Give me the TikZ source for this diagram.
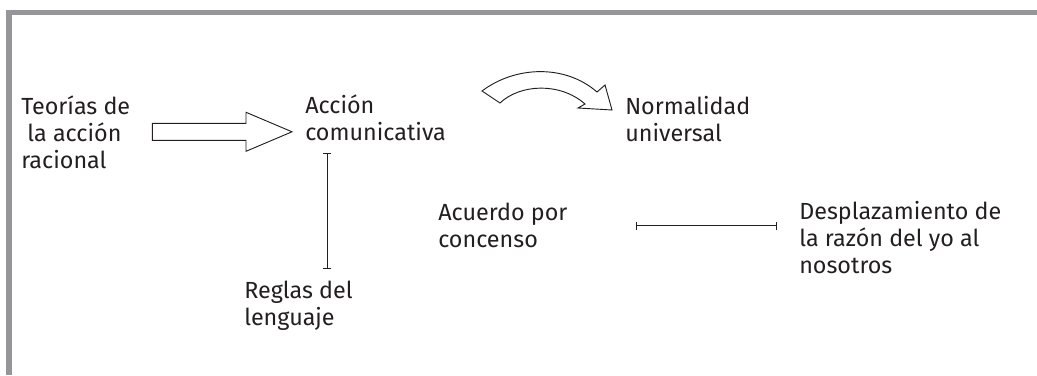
\documentclass[tikz,border=0pt]{standalone}
\usepackage{fontspec}
\setmainfont{Fira Sans}
\usepackage{tikz}
\usetikzlibrary{arrows.meta,positioning,calc}
\definecolor{grismarco}{RGB}{150,150,154}
\definecolor{texto}{RGB}{35,31,32}

\begin{document}
\begin{tikzpicture}[
    x=0.75pt,
    y=-0.75pt,
    font=\fontsize{17.5}{20.25}\selectfont,
    concepto/.style={
		anchor=base west,
		align=left,
		inner sep=0pt,
		text=texto
	},
	hueca/.style={
		draw=texto,
		line width=0.7pt,
		fill=white,
		line join=miter
	},
	linea/.style={
		draw=texto,
		line width=0.7pt,
		{Bar[width=6pt]}-{Bar[width=6pt]}
	},
	marco/.style={
		draw=grismarco,
		line width=4.2pt
	}
  ]

\useasboundingbox (0,0) rectangle (1037,375);

% // el marco
\draw [marco] (1037,12.5) -- (9,12.5) -- (9,375);

% // los conceptos (base = ultima linea)
 \node [concepto] (teorias) at (21,168) {Teorías de\\~la acción\\racional};
 \node [concepto] (accion) at (305,140) {Acción\\comunicativa};
 \node [concepto] (normalidad) at (625,141) {Normalidad\\universal};
 \node [concepto] (reglas) at (244,325) {Reglas del\\lenguaje};
 \node [concepto] (acuerdo) at (438,247) {Acuerdo por\\concenso};
 \node [concepto] (desplazamiento) at (799,273) {Desplazamiento de\\la razón del yo al\\nosotros};

% // flecha hueca recta
\coordinate (flechaIni) at ($(teorias.east)+(22,0)$);
\coordinate (flechaFin) at ($(accion.west |- flechaIni)+(-13,0)$);
\draw [hueca] ($(flechaIni)+(0,-8.5)$) -- ($(flechaFin)+(-46,-8.5)$) -- ($(flechaFin)+(-46,-19.5)$)
  -- (flechaFin) -- ($(flechaFin)+(-46,19.5)$) -- ($(flechaFin)+(-46,8.5)$)
  -- ($(flechaIni)+(0,8.5)$) -- cycle;

% // flecha hueca curva
\coordinate (curvaFin) at ($(normalidad.base west)+(-13,-31)$);
\draw [hueca] ($(curvaFin)+(-130,-19)$)
  .. controls ($(curvaFin)+(-97,-44)$) and ($(curvaFin)+(-47,-46)$) .. ($(curvaFin)+(-15,-18)$)
  -- ($(curvaFin)+(-7,-25)$) -- (curvaFin) -- ($(curvaFin)+(-34,-2)$) -- ($(curvaFin)+(-27,-6)$)
  .. controls ($(curvaFin)+(-52,-28)$) and ($(curvaFin)+(-92,-26)$) .. ($(curvaFin)+(-112,-7)$)
  -- cycle;

% // uniones
 \draw [linea] ($(accion.south west)+(22,12)$) -- ($(accion.south west |- reglas.north)+(22,-11)$);
 \draw [linea] ($(acuerdo.east)+(68,1)$) -- ($(acuerdo.east -| desplazamiento.west)+(-22,1)$);

\end{tikzpicture}
\end{document}
